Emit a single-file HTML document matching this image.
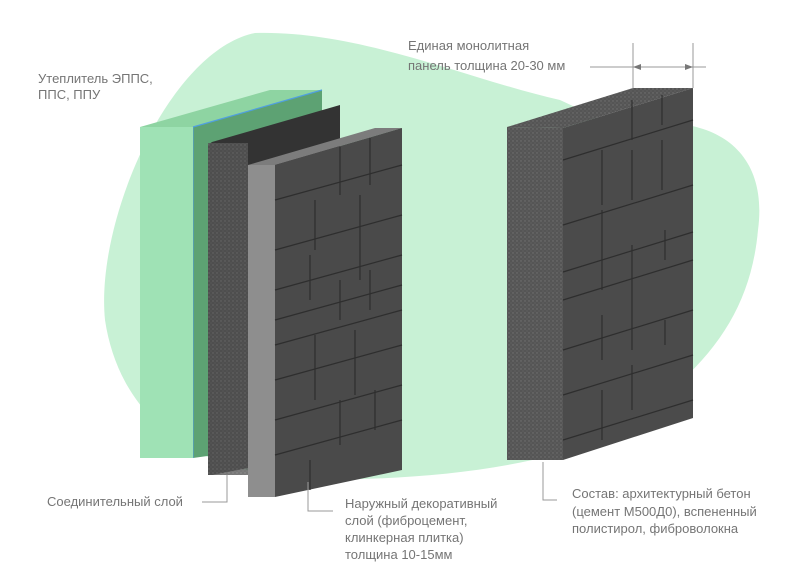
<!DOCTYPE html>
<html><head><meta charset="utf-8"><style>
html,body{margin:0;padding:0;background:#fff}
svg{display:block}
text{font-family:"Liberation Sans",sans-serif;font-size:13px;fill:#757575}
</style></head><body>
<svg width="793" height="586" viewBox="0 0 793 586" xmlns="http://www.w3.org/2000/svg">
<defs>
<pattern id="grain" width="4" height="4" patternUnits="userSpaceOnUse">
<rect width="4" height="4" fill="#555"/><circle cx="1" cy="1" r="0.7" fill="#747474"/><circle cx="3" cy="3" r="0.6" fill="#666"/>
</pattern>
</defs>
<path d="M255 33 C360 30 470 80 560 100 L620 128 C700 110 770 140 758 230 C750 320 700 380 600 440 C520 470 430 478 330 480 C200 480 120 420 105 320 C95 220 170 50 255 33 Z" fill="#c8f1d5"/>
<polygon points="140,127 270,90 322,90 193,127" fill="#8ed4a2"/>
<polygon points="193,127 322,90 322,440 193,458" fill="#5da273"/>
<line x1="193" y1="127" x2="322" y2="90" stroke="#4f9fe0" stroke-width="1.2"/>
<line x1="193" y1="127" x2="193" y2="458" stroke="#4f9fe0" stroke-width="1"/>
<rect x="140" y="127" width="53" height="331" fill="#9fe2b5"/>
<polygon points="208,145 212,142 340,105 340,450 212,475 208,475" fill="#333"/>
<rect x="208" y="143" width="40" height="332" fill="url(#grain)" opacity="0.8"/>
<polygon points="248,165 375,128 402,128 275,165" fill="#7c7c7c"/>
<rect x="248" y="165" width="27" height="332" fill="#8e8e8e"/>
<polygon points="275,165 402,128 402,470 275,497" fill="#4a4a4a"/>
<g stroke="#2e2e2e" stroke-width="1.2" fill="none">
<path d="M275,200 L402,165 M275,250 L402,215 M275,290 L402,255 M275,320 L402,285 M275,345 L402,310 M275,380 L402,345 M275,420 L402,385 M275,455 L402,420"/>
<path d="M340,147 V195 M370,138 V185 M315,200 V250 M360,195 V280 M310,255 V300 M340,280 V320 M370,270 V310 M315,335 V400 M355,330 V395 M340,400 V445 M375,390 V430 M310,460 V490"/>
</g>
<polygon points="507,127 633,88 693,88 563,128" fill="url(#grain)"/>
<polygon points="507,127 563,128 563,460 507,460" fill="url(#grain)"/>
<polygon points="563,128 693,88 693,418 563,460" fill="#4b4b4b"/>
<g stroke="#2e2e2e" stroke-width="1.2" fill="none">
<path d="M563,160 L693,120 M563,225 L693,185 M563,272 L693,232 M563,300 L693,260 M563,350 L693,310 M563,395 L693,355 M563,440 L693,400"/>
<path d="M632,100 V140 M662,95 V125 M602,150 V205 M632,150 V200 M662,140 V190 M602,210 V290 M665,230 V260 M632,245 V300 M602,315 V360 M632,295 V350 M665,320 V345 M632,365 V410 M602,390 V440"/>
</g>
<g stroke="#999" stroke-width="1">
<line x1="633" y1="43" x2="633" y2="88"/><line x1="693" y1="43" x2="693" y2="88"/>
<line x1="590" y1="67" x2="706" y2="67"/>
</g>
<polygon points="633,67 641,64 641,70" fill="#777"/><polygon points="693,67 685,64 685,70" fill="#777"/>
<g stroke="#999" stroke-width="1" fill="none">
<polyline points="202,502 227,502 227,475"/>
<polyline points="308,482 308,511 333,511"/>
<polyline points="543,462 543,500 557,500"/>
</g>
<text x="38" y="83">Утеплитель ЭППС,</text>
<text x="38" y="99">ППС, ППУ</text>
<text x="408" y="50">Единая монолитная</text>
<text x="408" y="70">панель толщина 20-30 мм</text>
<text x="47" y="506">Соединительный слой</text>
<text x="345" y="508">Наружный декоративный</text>
<text x="345" y="525">слой (фиброцемент,</text>
<text x="345" y="542">клинкерная плитка)</text>
<text x="345" y="559">толщина 10-15мм</text>
<text x="572" y="498">Состав: архитектурный бетон</text>
<text x="572" y="516">(цемент М500Д0), вспененный</text>
<text x="572" y="533">полистирол, фиброволокна</text>
</svg>
</body></html>
